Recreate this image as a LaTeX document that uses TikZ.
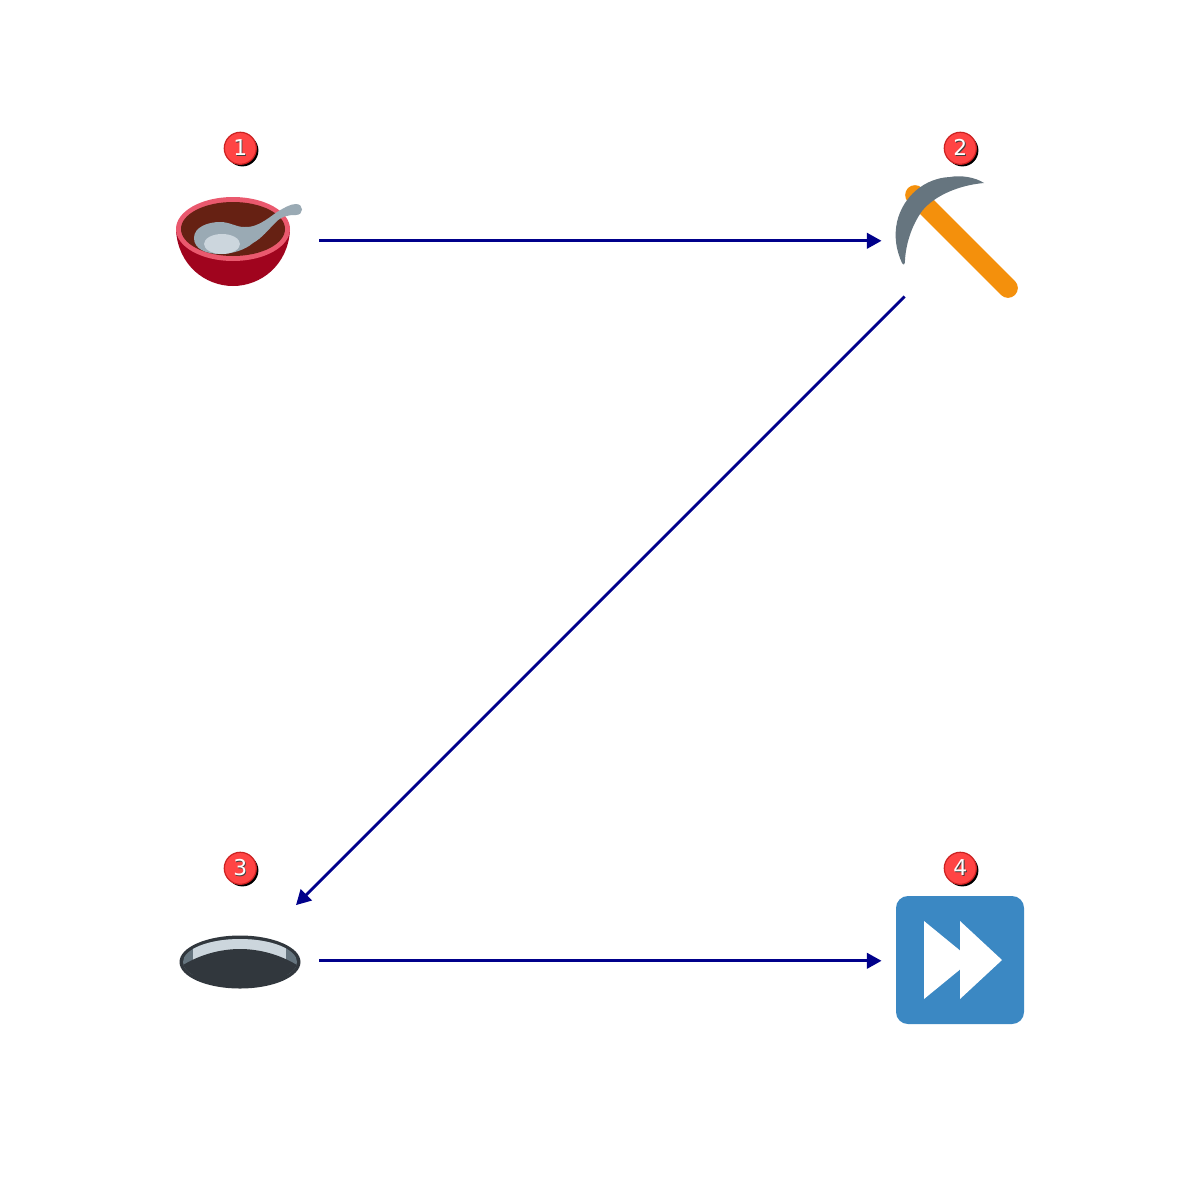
\documentclass[tikz,border=0pt]{standalone}
\usepackage{fontspec}
\setmainfont{DejaVu Sans}
\usetikzlibrary{arrows.meta,shadows}
\definecolor{arrowblue}{HTML}{00008B}
\definecolor{badgered}{HTML}{FF4444}
\definecolor{badgeedge}{HTML}{CC2222}
\definecolor{bowlred}{HTML}{A0041E}
\definecolor{bowlrim}{HTML}{EA596E}
\definecolor{bowlsoup}{HTML}{662113}
\definecolor{steelgray}{HTML}{9AAAB4}
\definecolor{palegray}{HTML}{CCD6DD}
\definecolor{slategray}{HTML}{66757F}
\definecolor{holedark}{HTML}{31373D}
\definecolor{handleorange}{HTML}{F4900C}
\definecolor{tileblue}{HTML}{3B88C3}
\newcommand{\badgedigit}[1]{\rlap{\raisebox{-0.25pt}{\kern0.25pt\textcolor{black!75}{#1}}}\textcolor{white}{#1}}
\tikzset{
    iconspot/.style={circle,minimum size=1.56cm,inner sep=0pt},
    flowline/.style={draw=arrowblue,line width=0.85pt,-{Triangle[length=4.2pt,width=4.4pt]}},
    badge/.style={circle,minimum size=0.32cm,inner sep=0pt,fill=badgered,draw=badgeedge,line width=0.35pt,
        general shadow={fill=black,shadow xshift=0.6pt,shadow yshift=-0.6pt},
        font=\fontsize{6.2}{6.5}\selectfont},
}
\begin{document}
\begin{tikzpicture}[x=0.01cm,y=-0.01cm]
        \useasboundingbox (0,0) rectangle (1200,1200);
        % bowl
        \fill[bowlred] (176,230) .. controls (178,265) and (205,286) .. (233,286) .. controls (261,286) and (288,265) .. (290,230) -- cycle;
        \fill[bowlrim] (233,229) ellipse [x radius=57,y radius=32];
        \fill[bowlsoup] (233,229) ellipse [x radius=52,y radius=27];
        \fill[steelgray] (194,238) .. controls (194,227) and (208,222) .. (220,222) .. controls (230,222) and (236,227) .. (244,227)
            .. controls (256,228) and (266,220) .. (277,212) .. controls (284,208) and (290,204) .. (296,204)
            .. controls (304,204) and (304,215) .. (296,215) .. controls (288,215) and (282,216) .. (276,222)
            .. controls (268,230) and (262,238) .. (253,243) .. controls (245,250) and (232,254) .. (220,254)
            .. controls (206,254) and (194,249) .. (194,238) -- cycle;
        \fill[palegray] (222,244) ellipse [x radius=18,y radius=10];
        % pick
        \draw[handleorange,line width=5.6pt,line cap=round] (915,195) -- (1008,288);
        \fill[slategray] (984,183) .. controls (975,177) and (960,175) .. (950,177) .. controls (925,178) and (903,196) .. (897,222)
            .. controls (894,236) and (896,250) .. (902,263) .. controls (904,266) and (905,264) .. (905,260)
            .. controls (906,243) and (912,225) .. (922,211) .. controls (935,195) and (960,185) .. (984,183) -- cycle;
        % hole
        \fill[holedark] (240,962) ellipse [x radius=60.5,y radius=26.5];
        \begin{scope}
            \clip (240,962) ellipse [x radius=57,y radius=23];
            \fill[slategray] (180,935) rectangle (300,975);
            \fill[palegray] (193,935) rectangle (286,975);
            \fill[holedark] (180,967) .. controls (198,955) and (220,949) .. (240,949) .. controls (260,949) and (282,955) .. (300,967) -- (300,990) -- (180,990) -- cycle;
        \end{scope}
        % forward tile
        \fill[tileblue,rounded corners=3.4pt] (896,896) rectangle (1024,1024);
        \fill[white] (924,921) -- (960,950.5) -- (960,921) -- (1002,960) -- (960,999) -- (960,969.5) -- (924,999) -- cycle;
        % steps
        \node[iconspot] (bowl) at (240.3,240.8) {};
        \node[iconspot] (pick) at (960.3,240.8) {};
        \node[iconspot] (hole) at (240.3,960.8) {};
        \node[iconspot] (forward) at (960.3,960.8) {};
        \draw[flowline] (bowl) -- (pick);
        \draw[flowline] (pick) -- (hole);
        \draw[flowline] (hole) -- (forward);
        % numbers
        \foreach \name/\posx/\posy/\num in {one/240.3/148.3/1,two/960.3/148.3/2,three/240.3/868.3/3,four/960.3/868.3/4} {
            \node[badge] (\name) at (\posx,\posy) {\badgedigit{\num}};
        }
\end{tikzpicture}
\end{document}
